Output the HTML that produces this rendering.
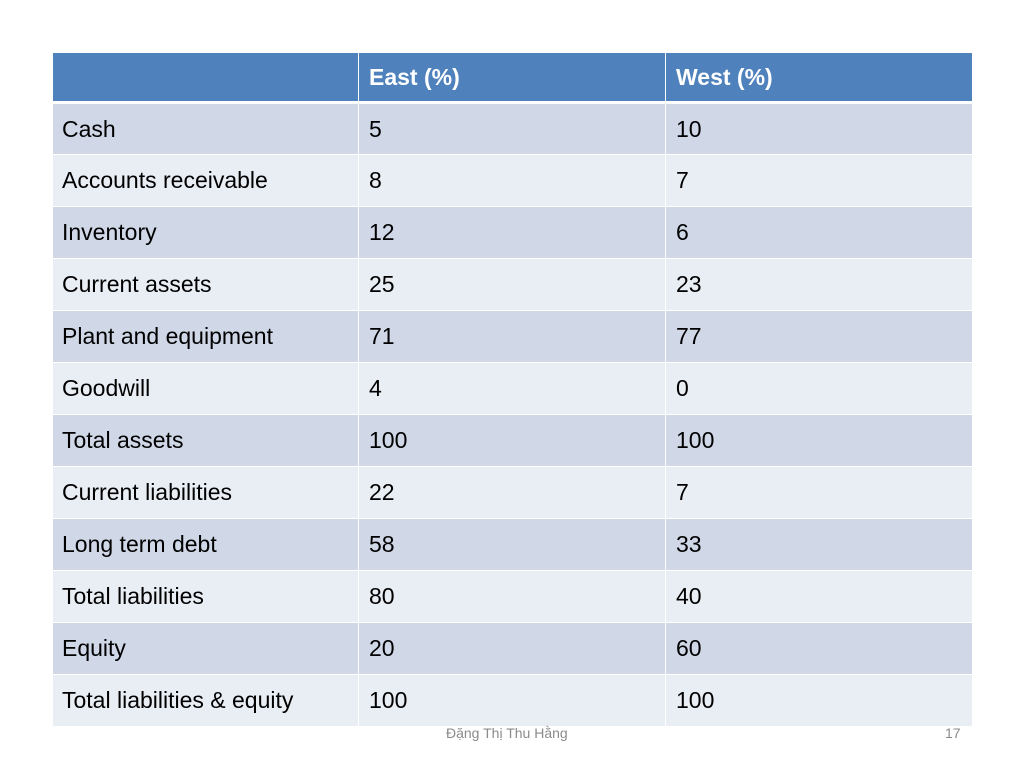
<!DOCTYPE html>
<html><head><meta charset="utf-8"><style>
body{margin:0;width:1024px;height:768px;background:#fff;position:relative;overflow:hidden;font-family:"Liberation Sans","DejaVu Sans",sans-serif}
table{position:absolute;left:52px;top:52px;border-collapse:collapse;table-layout:fixed;width:920px}
td{height:52px;padding:0 0 0 9px;font-size:23px;color:#000;border:1px solid #fff;border-width:1px 1px;box-sizing:border-box;vertical-align:middle}
td:nth-child(2),td:nth-child(3){padding-left:10px}
tr.h td{background:#4F81BD;color:#fff;font-weight:bold;height:50px;border-bottom:3px solid #fff}
tr.o td{background:#D0D8E8}
tr.e td{background:#E9EDF4}
.foot{position:absolute;top:725px;font-size:14px;color:#8B8B8B}
</style></head><body>
<table>
<colgroup><col style="width:306px"><col style="width:307px"><col style="width:307px"></colgroup>
<tr class="h"><td></td><td>East (%)</td><td>West (%)</td></tr>
<tr class="o"><td>Cash</td><td>5</td><td>10</td></tr>
<tr class="e"><td>Accounts receivable</td><td>8</td><td>7</td></tr>
<tr class="o"><td>Inventory</td><td>12</td><td>6</td></tr>
<tr class="e"><td>Current assets</td><td>25</td><td>23</td></tr>
<tr class="o"><td>Plant and equipment</td><td>71</td><td>77</td></tr>
<tr class="e"><td>Goodwill</td><td>4</td><td>0</td></tr>
<tr class="o"><td>Total assets</td><td>100</td><td>100</td></tr>
<tr class="e"><td>Current liabilities</td><td>22</td><td>7</td></tr>
<tr class="o"><td>Long term debt</td><td>58</td><td>33</td></tr>
<tr class="e"><td>Total liabilities</td><td>80</td><td>40</td></tr>
<tr class="o"><td>Equity</td><td>20</td><td>60</td></tr>
<tr class="e"><td>Total liabilities &amp; equity</td><td>100</td><td>100</td></tr>
</table>
<div class="foot" style="left:446px">Đặng Thị Thu Hằng</div>
<div class="foot" style="left:945px">17</div>
</body></html>
